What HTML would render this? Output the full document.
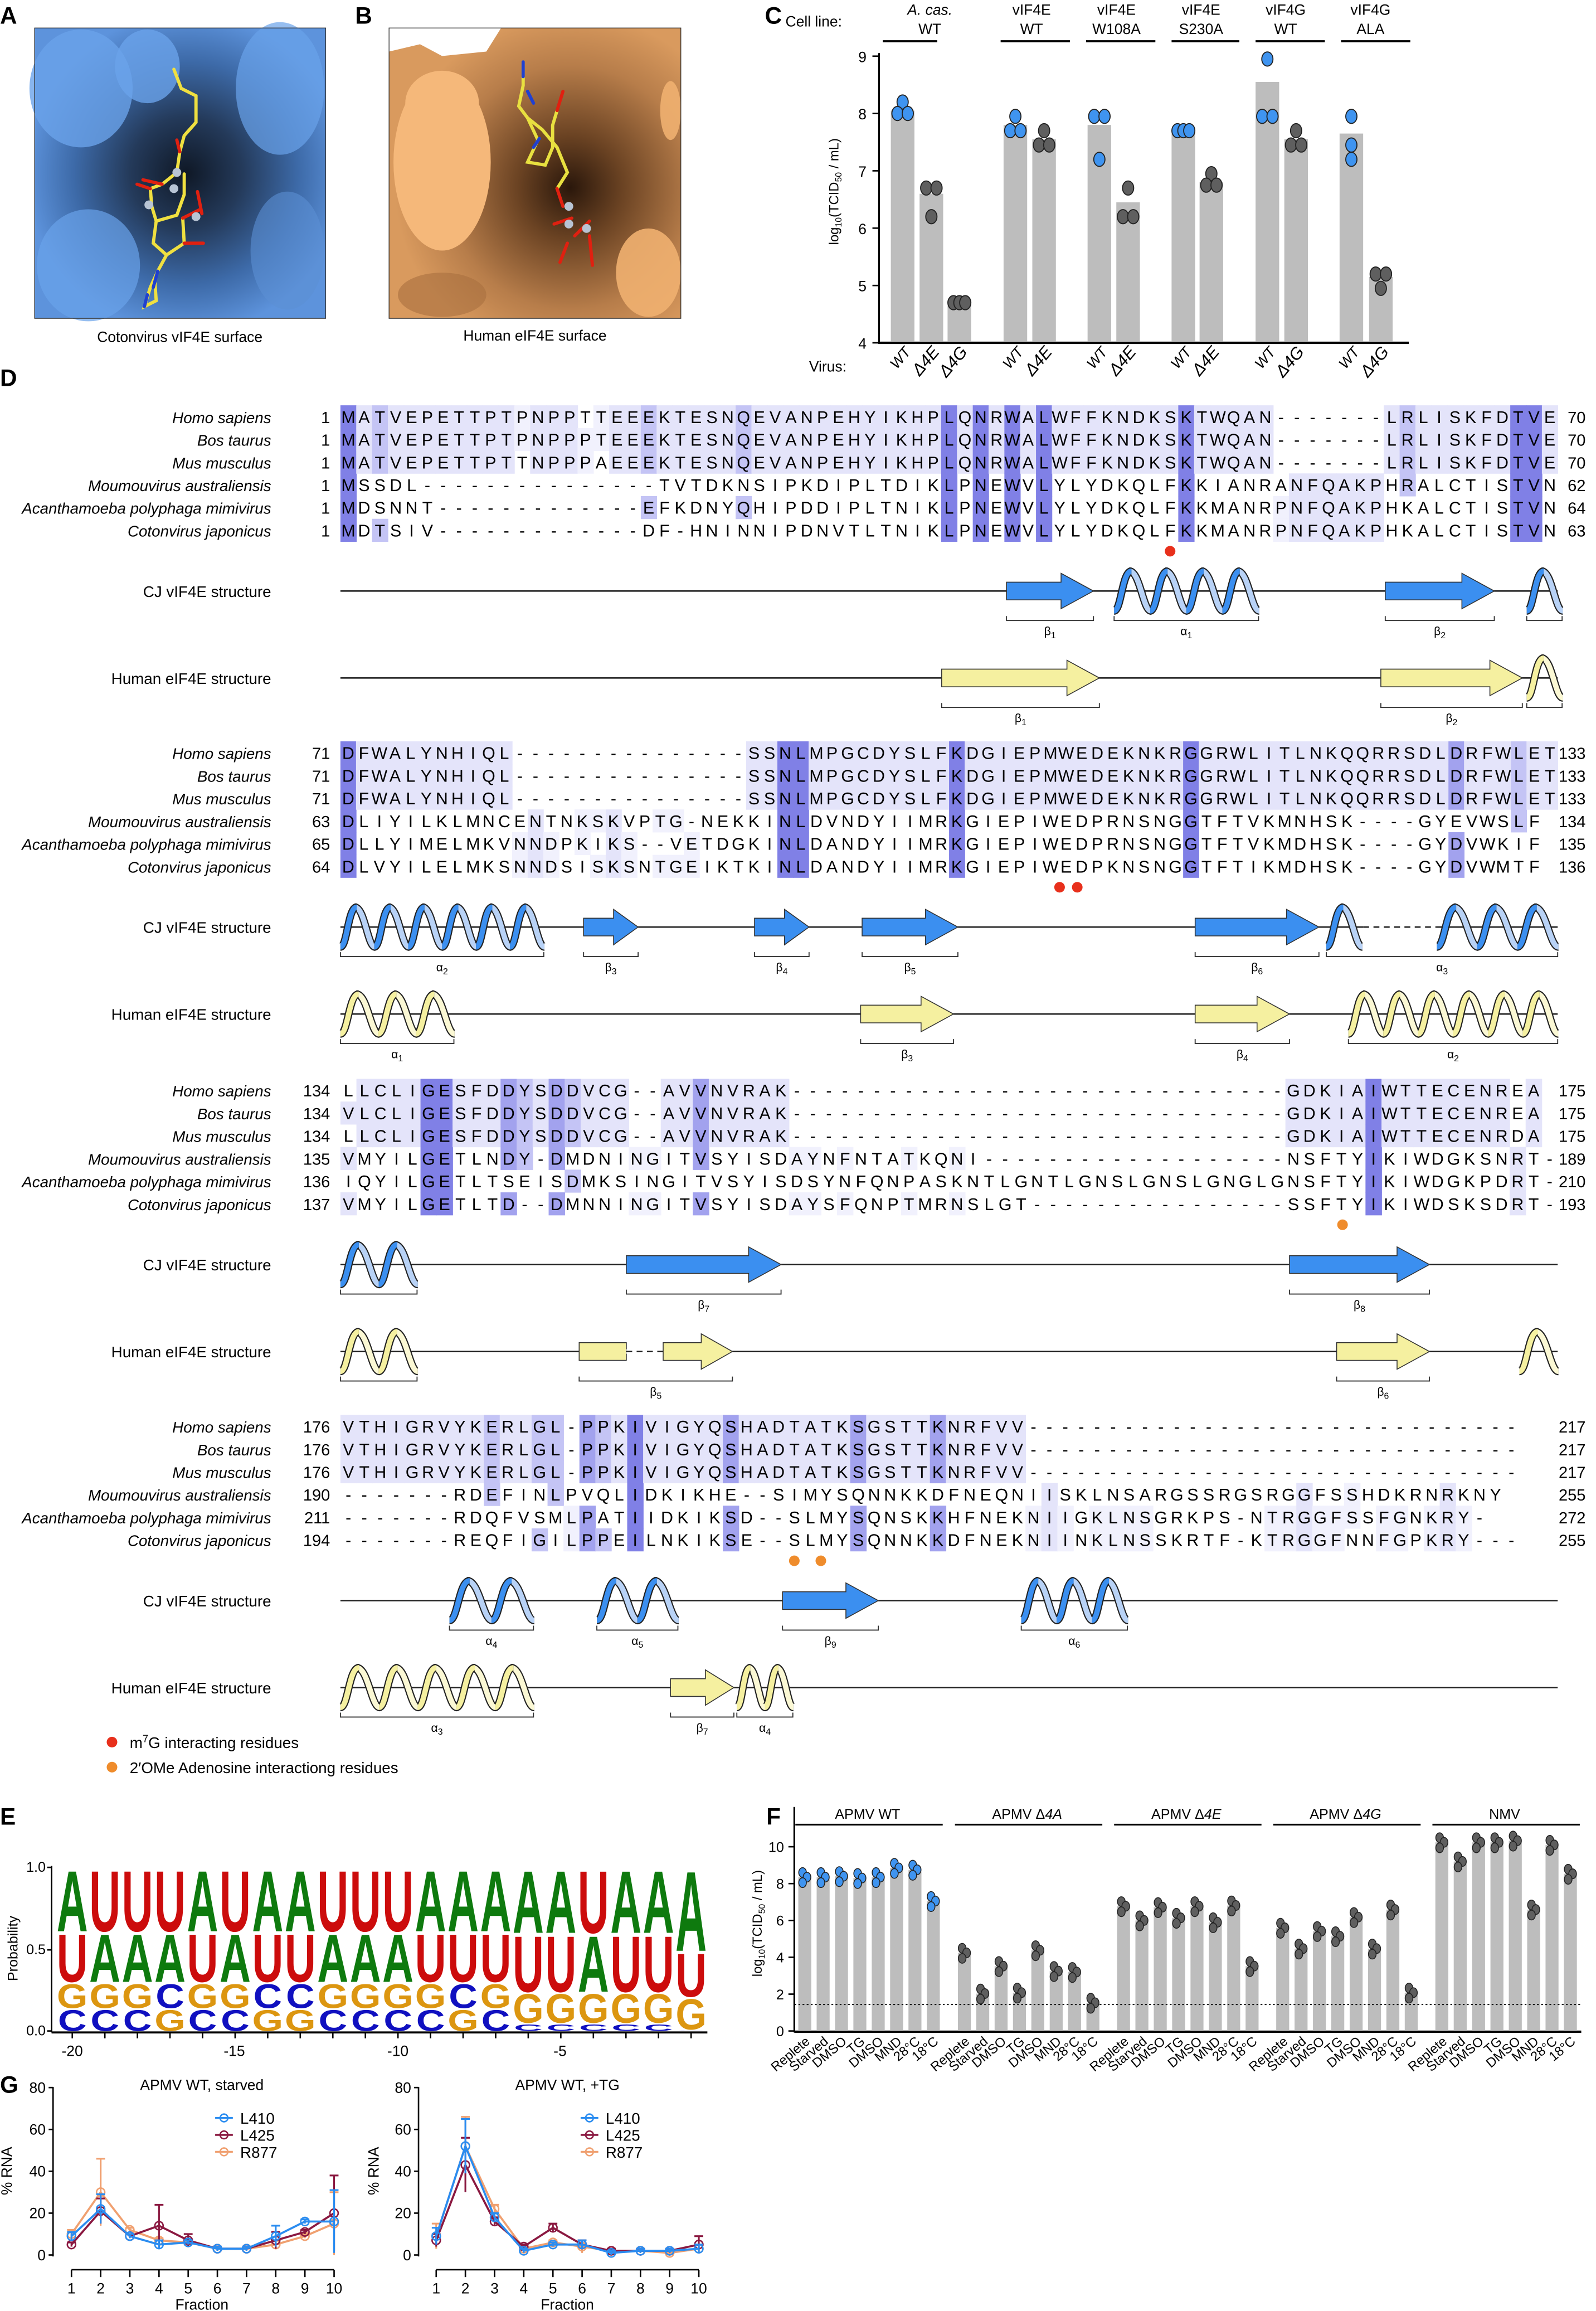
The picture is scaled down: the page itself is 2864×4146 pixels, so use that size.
<!DOCTYPE html>
<html><head><meta charset="utf-8">
<style>
html,body{margin:0;padding:0;background:#fff;}
svg{display:block;}
text{font-family:"Liberation Sans",sans-serif;}
</style></head>
<body>
<svg id="s" xmlns="http://www.w3.org/2000/svg" width="2864" height="4146" viewBox="0 0 1083 1568" preserveAspectRatio="none">
<defs>
<radialGradient id="ga" cx="0.52" cy="0.5" r="0.55">
<stop offset="0" stop-color="#0f1826"/><stop offset="0.35" stop-color="#243a5a"/><stop offset="0.7" stop-color="#3d6aa8"/><stop offset="1" stop-color="#5d93dc"/></radialGradient>
<radialGradient id="gb" cx="0.62" cy="0.55" r="0.6">
<stop offset="0" stop-color="#2a170b"/><stop offset="0.3" stop-color="#6b4323"/><stop offset="0.7" stop-color="#b77d4a"/><stop offset="1" stop-color="#d99a5e"/></radialGradient>
</defs>
<text x="0" y="16" font-size="16" font-weight="bold">A</text>
<text x="241" y="16" font-size="16" font-weight="bold">B</text>
<text x="519" y="16" font-size="16" font-weight="bold">C</text>
<text x="0" y="262" font-size="16" font-weight="bold">D</text>
<text x="0" y="1238" font-size="16" font-weight="bold">E</text>
<text x="520" y="1238" font-size="16" font-weight="bold">F</text>
<text x="0" y="1420" font-size="16" font-weight="bold">G</text>

<rect x="23.5" y="19" width="197.5" height="197" fill="#5f96de"/>
<rect x="23.5" y="19" width="197.5" height="197" fill="url(#ga)"/>
<ellipse cx="55" cy="60" rx="35" ry="40" fill="#6aa2ea" opacity="0.8"/>
<ellipse cx="190" cy="60" rx="30" ry="45" fill="#6aa2ea" opacity="0.7"/>
<ellipse cx="60" cy="180" rx="35" ry="38" fill="#6aa2ea" opacity="0.7"/>
<ellipse cx="195" cy="170" rx="25" ry="40" fill="#5b8fd4" opacity="0.6"/>
<ellipse cx="100" cy="45" rx="22" ry="25" fill="#6aa2ea" opacity="0.8"/>
<g stroke-width="2.2" fill="none" stroke-linecap="round">
<path d="M118 47 L123 60 L133 65 L133 83 L125 92 L122 103 L120 117 L110 125 L102 128 L103 140 L106 150 L120 146 L125 132 L125 118" stroke="#f0e040"/>
<path d="M106 150 L104 165 L113 173 L125 165 L124 148" stroke="#f0e040"/>
<path d="M113 173 L107 184 L102 195 L98 208 L106 204 L105 190" stroke="#f0e040"/>
<path d="M122 103 L120 95 M110 125 L97 122 M102 128 L93 125 M124 148 L136 142 M125 165 L138 165 M134 130 L137 145" stroke="#e02010"/>
<path d="M107 184 L104 195 M100 200 L98 208" stroke="#2040d0"/>
</g>
<circle cx="120" cy="117" r="3" fill="#b8c4d4"/><circle cx="118" cy="128" r="3" fill="#b8c4d4"/><circle cx="101" cy="139" r="3" fill="#b8c4d4"/><circle cx="133" cy="147" r="3" fill="#b8c4d4"/>
<rect x="23.5" y="19" width="197.5" height="197" fill="none" stroke="#333" stroke-width="0.5"/>
<text x="122" y="232" font-size="10" text-anchor="middle">Cotonvirus vIF4E surface</text>

<rect x="264" y="19" width="198" height="197" fill="#d99a5e"/>
<rect x="264" y="19" width="198" height="197" fill="url(#gb)"/>
<path d="M264 19 H340 L330 35 L300 38 L285 30 L264 35Z" fill="#fff"/>
<ellipse cx="300" cy="110" rx="33" ry="60" fill="#f5b87a"/>
<ellipse cx="300" cy="70" rx="25" ry="22" fill="#f5b87a"/>
<ellipse cx="440" cy="185" rx="22" ry="30" fill="#f0b070" opacity="0.9"/>
<ellipse cx="455" cy="75" rx="7" ry="20" fill="#f0b070" opacity="0.9"/>
<ellipse cx="300" cy="200" rx="30" ry="15" fill="#a8703f" opacity="0.6"/>
<g stroke-width="2.2" fill="none" stroke-linecap="round">
<path d="M355 42 L355 58 L352 72 L358 80 L365 95 L358 110 L370 112 L375 100 L375 85 L378 75" stroke="#e8e040"/>
<path d="M358 80 L368 88 L378 100 L385 117 L378 128" stroke="#e8e040"/>
<path d="M355 42 L355 52 M358 62 L362 70 M366 94 L362 100" stroke="#2040d0"/>
<path d="M378 75 L382 62 M378 128 L382 140 M376 152 L388 148 M390 160 L400 150 M385 165 L380 178 M400 160 L402 180" stroke="#e02010"/>
</g>
<circle cx="386" cy="140" r="3" fill="#b8c4d4"/><circle cx="386" cy="152" r="3" fill="#b8c4d4"/><circle cx="398" cy="155" r="3" fill="#b8c4d4"/>
<rect x="264" y="19" width="198" height="197" fill="none" stroke="#333" stroke-width="0.5"/>
<text x="363" y="231" font-size="10" text-anchor="middle">Human eIF4E surface</text>

<text x="533" y="18" font-size="10">Cell line:</text>
<text x="631" y="10" font-size="10" text-anchor="middle" font-style="italic">A. cas.</text>
<text x="631" y="23" font-size="10" text-anchor="middle">WT</text>
<text x="700" y="10" font-size="10" text-anchor="middle">vIF4E</text>
<text x="700" y="23" font-size="10" text-anchor="middle">WT</text>
<text x="757.6" y="10" font-size="10" text-anchor="middle">vIF4E</text>
<text x="757.6" y="23" font-size="10" text-anchor="middle">W108A</text>
<text x="815" y="10" font-size="10" text-anchor="middle">vIF4E</text>
<text x="815" y="23" font-size="10" text-anchor="middle">S230A</text>
<text x="872.4" y="10" font-size="10" text-anchor="middle">vIF4G</text>
<text x="872.4" y="23" font-size="10" text-anchor="middle">WT</text>
<text x="930" y="10" font-size="10" text-anchor="middle">vIF4G</text>
<text x="930" y="23" font-size="10" text-anchor="middle">ALA</text>
<text x="549" y="252" font-size="10">Virus:</text>
<text transform="translate(569,130) rotate(-90)" font-size="9" text-anchor="middle">log<tspan font-size="6" dy="2">10</tspan><tspan dy="-2">(TCID</tspan><tspan font-size="6" dy="2">50</tspan><tspan dy="-2"> / mL)</tspan></text>

<g font-size="10.5" font-style="italic" text-anchor="end" id="nmg"></g>

<circle cx="76" cy="1182" r="3.6" fill="#e8301c"/>
<text x="88" y="1186" font-size="10.5">m<tspan font-size="7" dy="-4">7</tspan><tspan dy="4">G interacting residues</tspan></text>
<circle cx="76" cy="1199" r="3.6" fill="#ef8c2c"/>
<text x="88" y="1203" font-size="10.5">2′OMe Adenosine interactiong residues</text>

<text transform="translate(12,1322) rotate(-90)" font-size="9.5" text-anchor="middle">Probability</text>
<text x="31" y="1270" font-size="9.5" text-anchor="end">1.0</text>
<text x="31" y="1326" font-size="9.5" text-anchor="end">0.5</text>
<text x="31" y="1381" font-size="9.5" text-anchor="end">0.0</text>
<text x="49" y="1395" font-size="10" text-anchor="middle">-20</text>
<text x="159" y="1395" font-size="10" text-anchor="middle">-15</text>
<text x="270" y="1395" font-size="10" text-anchor="middle">-10</text>
<text x="380" y="1395" font-size="10" text-anchor="middle">-5</text>

<text x="137" y="1418" font-size="10" text-anchor="middle">APMV WT, starved</text>
<text x="385" y="1418" font-size="10" text-anchor="middle">APMV WT, +TG</text>
<text x="137" y="1567" font-size="10" text-anchor="middle">Fraction</text>
<text x="385" y="1567" font-size="10" text-anchor="middle">Fraction</text>
<text transform="translate(8,1473) rotate(-90)" font-size="10" text-anchor="middle">% RNA</text>
<text transform="translate(257,1473) rotate(-90)" font-size="10" text-anchor="middle">% RNA</text>
<text transform="translate(517,1305) rotate(-90)" font-size="9" text-anchor="middle">log<tspan font-size="6" dy="2">10</tspan><tspan dy="-2">(TCID</tspan><tspan font-size="6" dy="2">50</tspan><tspan dy="-2"> / mL)</tspan></text>
</svg>
<script>
(function(){
var NS='http://www.w3.org/2000/svg';
var SV=document.getElementById('s');
function el(t,a,txt,p){var e=document.createElementNS(NS,t);for(var k in a)e.setAttribute(k,a[k]);if(txt!=null)e.textContent=txt;(p||SV).appendChild(e);return e;}

var spNames=['Homo sapiens','Bos taurus','Mus musculus','Moumouvirus australiensis','Acanthamoeba polyphaga mimivirus','Cotonvirus japonicus'];
var blocks=[
{y:283,W:826,st:[1,1,1,1,1,1],en:[70,70,70,62,64,63],s:[
"MATVEPETTPTPNPPTTEEEKTESNQEVANPEHYIKHPLQNRWALWFFKNDKSKTWQAN-------LRLISKFDTVE",
"MATVEPETTPTPNPPPTEEEKTESNQEVANPEHYIKHPLQNRWALWFFKNDKSKTWQAN-------LRLISKFDTVE",
"MATVEPETTPTTNPPPAEEEKTESNQEVANPEHYIKHPLQNRWALWFFKNDKSKTWQAN-------LRLISKFDTVE",
"MSSDL---------------TVTDKNSIPKDIPLTDIKLPNEWVLYLYDKQLFKKIANRANFQAKPHRALCTISTVN",
"MDSNNT-------------EFKDNYQHIPDDIPLTNIKLPNEWVLYLYDKQLFKKMANRPNFQAKPHKALCTISTVN",
"MDTSIV-------------DF-HNINNIPDNVTLTNIKLPNEWVLYLYDKQLFKKMANRPNFQAKPHKALCTISTVN"]},
{y:511,W:826,st:[71,71,71,63,65,64],en:[133,133,133,134,135,136],s:[
"DFWALYNHIQL---------------SSNLMPGCDYSLFKDGIEPMWEDEKNKRGGRWLITLNKQQRRSDLDRFWLET",
"DFWALYNHIQL---------------SSNLMPGCDYSLFKDGIEPMWEDEKNKRGGRWLITLNKQQRRSDLDRFWLET",
"DFWALYNHIQL---------------SSNLMPGCDYSLFKDGIEPMWEDEKNKRGGRWLITLNKQQRRSDLDRFWLET",
"DLIYILKLMNCENTNKSKVPTG-NEKKINLDVNDYIIMRKGIEPIWEDPRNSNGGTFTVKMNHSK----GYEVWSLF",
"DLLYIMELMKVNNDPKIKS--VETDGKINLDANDYIIMRKGIEPIWEDPRNSNGGTFTVKMDHSK----GYDVWKIF",
"DLVYILELMKSNNDSISKSNTGEIKTKINLDANDYIIMRKGIEPIWEDPKNSNGGTFTIKMDHSK----GYDVWMTF"]},
{y:740,W:826,st:[134,134,134,135,136,137],en:[175,175,175,189,210,193],s:[
"LLCLIGESFDDYSDDVCG--AVVNVRAK-------------------------------GDKIAIWTTECENREA",
"VLCLIGESFDDYSDDVCG--AVVNVRAK-------------------------------GDKIAIWTTECENREA",
"LLCLIGESFDDYSDDVCG--AVVNVRAK-------------------------------GDKIAIWTTECENRDA",
"VMYILGETLNDY-DMDNINGITVSYISDAYNFNTATKQNI-------------------NSFTYIKIWDGKSNRT-",
"IQYILGETLTSEISDMKSINGITVSYISDSYNFQNPASKNTLGNTLGNSLGNSLGNGLGNSFTYIKIWDGKPDRT-",
"VMYILGETLTD--DMNNINGITVSYISDAYSFQNPTMRNSLGT----------------SSFTYIKIWDSKSDRT-"]},
{y:968,W:800,st:[176,176,176,190,211,194],en:[217,217,217,255,272,255],s:[
"VTHIGRVYKERLGL-PPKIVIGYQSHADTATKSGSTTKNRFVV-------------------------------",
"VTHIGRVYKERLGL-PPKIVIGYQSHADTATKSGSTTKNRFVV-------------------------------",
"VTHIGRVYKERLGL-PPKIVIGYQSHADTATKSGSTTKNRFVV-------------------------------",
"-------RDEFINLPVQLIDKIKHE--SIMYSQNNKKDFNEQNIISKLNSARGSSRGSRGGFSSHDKRNRKNY",
"-------RDQFVSMLPATIIDKIKSD--SLMYSQNSKKHFNEKNIIGKLNSGRKPS-NTRGGFSSFGNKRY-",
"-------REQFIGILPPEILNKIKSE--SLMYSQNNKKDFNEKNIINKLNSSKRTF-KTRGGFNNFGPKRY---"]}
];
var x0=231,rh=15.4;
var ng=document.getElementById('nmg');
blocks.forEach(function(b){
  var N=0;b.s.forEach(function(s){if(s.length>N)N=s.length;});
  var cw=b.W/N;
  for(var c=0;c<N;c++){
    var cnt={};b.s.forEach(function(s){var ch=s[c];if(ch&&ch!=='-')cnt[ch]=(cnt[ch]||0)+1;});
    var best=null,bn=0;for(var k in cnt)if(cnt[k]>bn){bn=cnt[k];best=k;}
    b.s.forEach(function(s,r){
      if(s[c]===best&&bn>=2){
        var col=bn>=6?'#8080e6':bn===5?'#a2a2ee':bn===4?'#c4c4f5':bn===3?'#e4e4fa':'#f1f1fd';
        el('rect',{x:x0+c*cw,y:b.y+r*rh-8,width:cw+0.3,height:rh+0.2,fill:col});
      }
    });
  }
  b.s.forEach(function(s,r){
    var y=b.y+r*rh+4;
    el('text',{x:184,y:y},spNames[r],ng);
    el('text',{x:224,y:y,'font-size':11,'text-anchor':'end'},String(b.st[r]));
    el('text',{x:1076,y:y,'font-size':11,'text-anchor':'end'},String(b.en[r]));
    for(var c=0;c<s.length;c++){
      el('text',{x:x0+c*cw+cw/2,y:y,'font-size':11.5,'text-anchor':'middle'},s[c]);
    }
  });
});

function track(y,label){el('text',{x:184,y:y+4,'font-size':10.5,'text-anchor':'end'},label);el('line',{x1:231,y1:y,x2:1057,y2:y,stroke:'#222','stroke-width':1});}
function arrow(x1,x2,y,fill){
  var hl=Math.min(22,(x2-x1)*0.45);
  el('polygon',{points:x1+','+(y-6)+' '+(x2-hl)+','+(y-6)+' '+(x2-hl)+','+(y-12)+' '+x2+','+y+' '+(x2-hl)+','+(y+12)+' '+(x2-hl)+','+(y+6)+' '+x1+','+(y+6),fill:fill,stroke:'#333','stroke-width':0.6});
}
function helix(x1,x2,y,fill,back){
  var n=Math.max(1,Math.round((x2-x1)/24));var w=(x2-x1)/n,i,t,d,a=13.5;
  for(i=0;i<n;i++){t=x1+i*w;
    d='M'+(t+w*0.42)+','+(y-a)+' C'+(t+w*0.72)+','+(y-a)+' '+(t+w*0.8)+','+(y+a)+' '+(t+w*1.02)+','+(y+a);
    el('path',{d:d,fill:'none',stroke:'#222','stroke-width':5.2,'stroke-linecap':'butt'});
    el('path',{d:d,fill:'none',stroke:back,'stroke-width':3.6,'stroke-linecap':'butt'});}
  for(i=0;i<n;i++){t=x1+i*w;
    d='M'+t+','+(y+a)+' C'+(t+w*0.2)+','+(y+a)+' '+(t+w*0.22)+','+(y-a)+' '+(t+w*0.48)+','+(y-a);
    el('path',{d:d,fill:'none',stroke:'#222','stroke-width':5.2,'stroke-linecap':'butt'});
    el('path',{d:d,fill:'none',stroke:fill,'stroke-width':3.6,'stroke-linecap':'butt'});}
}
function lab(x1,x2,y,t){
  el('path',{d:'M'+x1+','+(y+17)+' V'+(y+20)+' H'+x2+' V'+(y+17),fill:'none',stroke:'#333','stroke-width':0.7});
  if(t){var e=el('text',{x:(x1+x2)/2,y:y+30,'font-size':8,'text-anchor':'middle'},t[0]);if(t.length>1)el('tspan',{'font-size':6,dy:2},t.slice(1),e);}
}
var CB='#3b8ff0',CBB='#b8d2f6',CY='#f5f0a0',CYB='#fbf8d4';
function gap(x1,x2,y){el('line',{x1:x1,y1:y,x2:x2,y2:y,stroke:'#fff','stroke-width':3});el('line',{x1:x1,y1:y,x2:x2,y2:y,stroke:'#222','stroke-width':1,'stroke-dasharray':'4,3'});}
track(401,'CJ vIF4E structure');
arrow(683,742,401,CB);lab(683,742,401,'β1');helix(756,854,401,CB,CBB);lab(756,854,401,'α1');arrow(940,1014,401,CB);lab(940,1014,401,'β2');helix(1036,1060,401,CB,CBB);lab(1036,1060,401,'');
track(460,'Human eIF4E structure');
arrow(639,746,460,CY);lab(639,746,460,'β1');arrow(937,1033,460,CY);lab(937,1033,460,'β2');helix(1036,1060,460,CY,CYB);lab(1036,1060,460,'');
track(629,'CJ vIF4E structure');
helix(231,369,629,CB,CBB);lab(231,369,629,'α2');arrow(396,433,629,CB);lab(396,433,629,'β3');arrow(512,549,629,CB);lab(512,549,629,'β4');arrow(585,650,629,CB);lab(585,650,629,'β5');arrow(811,895,629,CB);lab(811,895,629,'β6');helix(900,924,629,CB,CBB);gap(925,975,629);helix(975,1057,629,CB,CBB);lab(900,1057,629,'α3');
track(688,'Human eIF4E structure');
helix(231,308,688,CY,CYB);lab(231,308,688,'α1');arrow(584,647,688,CY);lab(584,647,688,'β3');arrow(811,875,688,CY);lab(811,875,688,'β4');helix(915,1057,688,CY,CYB);lab(915,1057,688,'α2');
track(858,'CJ vIF4E structure');
helix(231,283,858,CB,CBB);lab(231,283,858,'');arrow(425,530,858,CB);lab(425,530,858,'β7');arrow(875,970,858,CB);lab(875,970,858,'β8');
track(917,'Human eIF4E structure');
helix(231,283,917,CY,CYB);lab(231,283,917,'');el('rect',{x:393,y:911,width:32,height:12,fill:CY,stroke:'#333','stroke-width':0.6});gap(425,450,917);arrow(450,497,917,CY);lab(393,497,917,'β5');arrow(907,970,917,CY);lab(907,970,917,'β6');helix(1031,1057,917,CY,CYB);
track(1086,'CJ vIF4E structure');
helix(305,362,1086,CB,CBB);lab(305,362,1086,'α4');helix(405,460,1086,CB,CBB);lab(405,460,1086,'α5');arrow(531,596,1086,CB);lab(531,596,1086,'β9');helix(693,765,1086,CB,CBB);lab(693,765,1086,'α6');
track(1145,'Human eIF4E structure');
helix(231,362,1145,CY,CYB);lab(231,362,1145,'α3');arrow(455,498,1145,CY);lab(455,498,1145,'β7');helix(500,538,1145,CY,CYB);lab(500,538,1145,'α4');
[[794,374,'#e8301c'],[719,602,'#e8301c'],[731,602,'#e8301c'],[911,831,'#ef8c2c'],[539,1059,'#ef8c2c'],[557,1059,'#ef8c2c']].forEach(function(d){el('circle',{cx:d[0],cy:d[1],r:3.6,fill:d[2]});});

/* Panel C */
function cyf(v){return 232.6-(v-4)*38.9;}
el('line',{x1:596.5,y1:36,x2:596.5,y2:233,stroke:'#000','stroke-width':1.2});
el('line',{x1:596,y1:232.6,x2:956,y2:232.6,stroke:'#000','stroke-width':1.6});
for(var v=4;v<=9;v++){el('line',{x1:592,y1:cyf(v),x2:596.5,y2:cyf(v),stroke:'#000','stroke-width':1});el('text',{x:588,y:cyf(v)+4,'font-size':10,'text-anchor':'end'},String(v));}
[[599,636],[679,726],[737,784],[795,841],[852,899],[910,957]].forEach(function(l){el('line',{x1:l[0],y1:28,x2:l[1],y2:28,stroke:'#000','stroke-width':1.4});});
var cbars=[
[612.5,8.05,'b',[[8.2,0],[8,-3.5],[8,3.5]]],[632,6.6,'g',[[6.7,-3.5],[6.7,3.5],[6.2,0]]],[651,4.65,'g',[[4.7,-4],[4.7,0],[4.7,4]]],
[689,7.8,'b',[[7.95,0],[7.7,-3.5],[7.7,3.5]]],[708.5,7.55,'g',[[7.7,0],[7.45,-3.5],[7.45,3.5]]],
[746,7.8,'b',[[7.95,-3.5],[7.95,3.5],[7.2,0]]],[765.5,6.45,'g',[[6.7,0],[6.2,-3.5],[6.2,3.5]]],
[803,7.65,'b',[[7.7,-4],[7.7,0],[7.7,4]]],[822,6.8,'g',[[6.95,0],[6.75,-3.5],[6.75,3.5]]],
[860,8.55,'b',[[8.95,0],[7.95,-3.5],[7.95,3.5]]],[879.5,7.55,'g',[[7.7,0],[7.45,-3.5],[7.45,3.5]]],
[917,7.65,'b',[[7.95,0],[7.45,0],[7.2,0]]],[937,5.15,'g',[[5.2,-3.5],[5.2,3.5],[4.95,0]]]];
cbars.forEach(function(b){el('rect',{x:b[0]-8,y:cyf(b[1]),width:16,height:232-cyf(b[1]),fill:'#bdbdbd'});});
cbars.forEach(function(b){b[3].forEach(function(d){el('ellipse',{cx:b[0]+d[1],cy:cyf(d[0]),rx:3.8,ry:4.8,fill:b[2]==='b'?'#3f94f0':'#5f5f5f',stroke:'#222','stroke-width':0.7});});});
[[612.5,'WT'],[632,'Δ4E'],[651,'Δ4G'],[689,'WT'],[708.5,'Δ4E'],[746,'WT'],[765.5,'Δ4E'],[803,'WT'],[822,'Δ4E'],[860,'WT'],[879.5,'Δ4G'],[917,'WT'],[937,'Δ4G']].forEach(function(v){
  el('text',{transform:'translate('+(v[0]+6)+',239) rotate(-50)','font-size':v[1]==='WT'?10:11.5,'font-style':'italic','text-anchor':'end'},v[1]);});

/* Panel E */
el('line',{x1:35,y1:1266,x2:35,y2:1379,stroke:'#000','stroke-width':1});
el('line',{x1:35,y1:1379,x2:480,y2:1379,stroke:'#000','stroke-width':1.4});
[1267,1323,1378].forEach(function(t){el('line',{x1:32,y1:t,x2:35,y2:t,stroke:'#000'});});
var tops="AUUUAUAAUUUAAAAAUAAA";
var lows=["GC","GC","GC","CG","GC","GC","CG","CG","GC","GC","GC","GC","CG","GC","GC","GC","GC","GC","GC","GC"];
var colr={A:'#0e7a0e',U:'#cc0c0c',G:'#dc9610',C:'#1010c0'};
var ey0=1378,eh=111,ex0=38,ew=22.1;
function letter(ch,x,yb,w,h){
  var sx=w/(ch==='G'||ch==='C'?78:72),sy=h/72;
  el('text',{transform:'translate('+x+','+yb+') scale('+sx+','+sy+')','font-size':100,'font-weight':'bold','text-anchor':'middle',fill:colr[ch]},ch);
}
for(var i=0;i<20;i++){
  var x=ex0+i*ew+ew/2;var late=i>=14;
  var h1=late?0.05:0.14,h2=late?0.19:0.16,h3=late?0.36:0.31; if(i===19){h1=0.01;h2=0.2;h3=0.28;}
  var h4=1-h1-h2-h3;var t=tops[i],s2=t==='A'?'U':'A',lo=lows[i];var y=ey0;
  [[lo[1],h1],[lo[0],h2],[s2,h3],[t,h4]].forEach(function(p){var hh=p[1]*eh;letter(p[0],x,y,ew-1,hh-1);y-=hh;});
  el('line',{x1:x,y1:1379,x2:x,y2:1383,stroke:'#000'});
}

/* Panel F */
function fy(v){return 1378-v*12.5;}
el('line',{x1:539,y1:1226,x2:539,y2:1379,stroke:'#000','stroke-width':1.2});
el('line',{x1:539,y1:1378.5,x2:1073,y2:1378.5,stroke:'#000','stroke-width':1.6});
for(var v2=0;v2<=10;v2+=2){el('line',{x1:535,y1:fy(v2),x2:539,y2:fy(v2),stroke:'#000'});el('text',{x:532,y:fy(v2)+3.5,'font-size':9.5,'text-anchor':'end'},String(v2));}
var fd=[[8.35,8.35,8.4,8.3,8.35,8.85,8.75,7.05],[4.24,2.03,3.52,2.08,4.38,3.25,3.2,1.53],[6.77,6.0,6.72,6.14,6.77,5.9,6.81,3.52],[5.6,4.47,5.42,5.14,6.18,4.47,6.59,2.08],[10.24,9.2,10.24,10.24,10.33,6.59,10.1,8.53]];
var gx=[541.7,650,758,866,974];
var gnames=[['APMV WT',null],['APMV Δ','4A'],['APMV Δ','4E'],['APMV Δ','4G'],['NMV',null]];
var xl=['Replete','Starved','DMSO','TG','DMSO','MND','28°C','18°C'];
fd.forEach(function(g,gi){g.forEach(function(v,i){var x=gx[gi]+i*12.46;el('rect',{x:x,y:fy(v),width:8.8,height:1378-fy(v),fill:'#bdbdbd'});});});
el('line',{x1:539,y1:fy(1.44),x2:1073,y2:fy(1.44),stroke:'#000','stroke-width':0.8,'stroke-dasharray':'1.2,1.6'});
fd.forEach(function(g,gi){
  g.forEach(function(v,i){var x=gx[gi]+i*12.46+4.4;
    [[v+0.25,-1.5],[v,1.5],[v-0.3,-1.5]].forEach(function(d){el('ellipse',{cx:x+d[1],cy:fy(d[0]),rx:2.6,ry:3.3,fill:gi===0?'#3f94f0':'#5f5f5f',stroke:'#222','stroke-width':0.6});});
    el('text',{transform:'translate('+(x+4)+',1386) rotate(-40)','font-size':9,'text-anchor':'end'},xl[i]);
  });
  el('line',{x1:gx[gi]-2,y1:1238,x2:gx[gi]+98,y2:1238,stroke:'#000','stroke-width':1.2});
  var tt=el('text',{x:gx[gi]+47,y:1234,'font-size':9.5,'text-anchor':'middle'},gnames[gi][0]);
  if(gnames[gi][1])el('tspan',{'font-style':'italic'},gnames[gi][1],tt);
});

/* Panel G */
function gplot(ax,xs,data){
  function gy(v){return 1530-v*1.42;} function gxx(f){return xs+(f-1)*19.8;}
  el('line',{x1:ax,y1:1416,x2:ax,y2:1531,stroke:'#000','stroke-width':1});
  for(var v=0;v<=80;v+=20){el('line',{x1:ax-3,y1:gy(v),x2:ax,y2:gy(v),stroke:'#000'});el('text',{x:ax-5,y:gy(v)+3.5,'font-size':10,'text-anchor':'end'},String(v));}
  el('line',{x1:xs,y1:1540,x2:gxx(10),y2:1540,stroke:'#000','stroke-width':1});
  for(var f=1;f<=10;f++){el('line',{x1:gxx(f),y1:1540,x2:gxx(f),y2:1545,stroke:'#000'});el('text',{x:gxx(f),y:1556,'font-size':10,'text-anchor':'middle'},String(f));}
  var cols=['#f0a070','#8a1840','#2a8cf0'];
  [0,1,2].forEach(function(k){var d=data[k];var c=cols[k];
    el('polyline',{points:d.map(function(v,i){return gxx(i+1)+','+gy(v[0]);}).join(' '),fill:'none',stroke:c,'stroke-width':1.4});
    d.forEach(function(v,i){if(v[1]){el('line',{x1:gxx(i+1),y1:gy(v[0]-v[1]),x2:gxx(i+1),y2:gy(v[0]+v[1]),stroke:c,'stroke-width':1.2});el('line',{x1:gxx(i+1)-3,y1:gy(v[0]+v[1]),x2:gxx(i+1)+3,y2:gy(v[0]+v[1]),stroke:c,'stroke-width':1.2});}
      el('circle',{cx:gxx(i+1),cy:gy(v[0]),r:2.8,fill:'none',stroke:c,'stroke-width':1});});
  });
  var lx=ax+110;
  [['L410',cols[2]],['L425',cols[1]],['R877',cols[0]]].forEach(function(l,i){var y=1437+i*11.5;
    el('line',{x1:lx,y1:y,x2:lx+12,y2:y,stroke:l[1],'stroke-width':1.3});el('circle',{cx:lx+6,cy:y,r:2.6,fill:'none',stroke:l[1]});
    el('text',{x:lx+17,y:y+4,'font-size':10.5},l[0]);});
}
gplot(36,48.5,[
 [[10,2],[30,16],[12,1],[7,1],[6,1],[3,1],[3,1],[5,2],[9,1],[15,15]],
 [[5,1],[21,6],[9,1],[14,10],[7,3],[3,1],[3,1],[7,4],[11,1],[20,18]],
 [[9,2],[22,7],[9,1],[5,2],[6,1],[3,1],[3,1],[9,5],[16,1],[16,15]]]);
gplot(284,296,[
 [[9,6],[52,14],[22,2],[3,1],[6,1],[4,3],[2,1],[2,1],[1,1],[3,2]],
 [[7,3],[43,13],[16,2],[4,1],[13,2],[5,2],[2,1],[2,1],[2,1],[5,4]],
 [[9,4],[52,13],[18,2],[2,1],[5,1],[5,2],[1,1],[2,1],[2,1],[3,2]]]);
})();
</script>
</body></html>
